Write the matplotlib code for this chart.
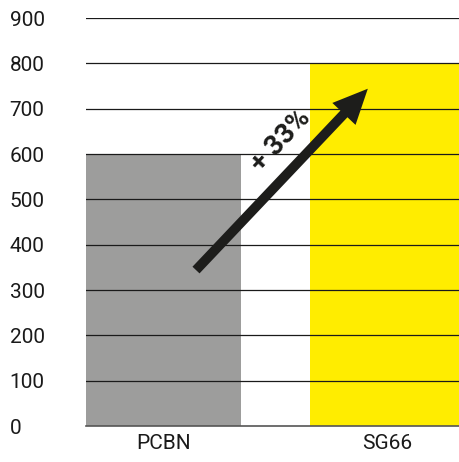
import matplotlib.pyplot as plt

categories = ["PCBN", "SG66"]
values = [600, 800]
colors = ["#9d9d9c", "#ffed00"]
yticks = [0, 100, 200, 300, 400, 500, 600, 700, 800, 900]
gain_label = "+ 33%"

plt.rcParams['font.family'] = ['Roboto', 'DejaVu Sans']

my_dpi = 100
fig = plt.figure(figsize=(459 / my_dpi, 462 / my_dpi), dpi=my_dpi)
ax = fig.add_axes([86 / 459, 1 - 426 / 462, (459 - 86) / 459, (426 - 18) / 462])

x = range(len(categories))
ax.bar(x, values, width=0.692, color=colors, zorder=1)

ax.set_xlim(-0.346, 1.319)
ax.set_ylim(0, 900)

# horizontal lines over the bars
for v in yticks[1:]:
    ax.axhline(v, color="#1a1a1a", lw=0.9, zorder=2)

ax.set_yticks(yticks)
ax.set_yticklabels([str(v) for v in yticks], ha="left", fontsize=15, color="#1a1a1a")
ax.tick_params(axis="y", length=0, pad=55)
ax.set_xticks(list(x))
ax.set_xticklabels(categories, fontsize=15, color="#1a1a1a")
ax.tick_params(axis="x", length=0, pad=6)

for s in ["top", "right", "left"]:
    ax.spines[s].set_visible(False)
ax.spines["bottom"].set_color("#555555")
ax.spines["bottom"].set_linewidth(1.2)
ax.spines["bottom"].set_zorder(3)

# growth arrow from PCBN level up to SG66 level
ax.annotate("", xy=(0.912, 744), xytext=(0.145, 344),
            arrowprops=dict(arrowstyle="simple,tail_width=0.7,head_width=2.3,head_length=2.5",
                            mutation_scale=10, fc="#1d1d1b", ec="none", lw=0,
                            shrinkA=0, shrinkB=0),
            zorder=4)

ax.text(0.525, 630, gain_label, rotation=47, ha="center", va="center",
        fontsize=20, fontweight="semibold", color="#1d1d1b", zorder=5)

fig.savefig("out.png", dpi=my_dpi)
